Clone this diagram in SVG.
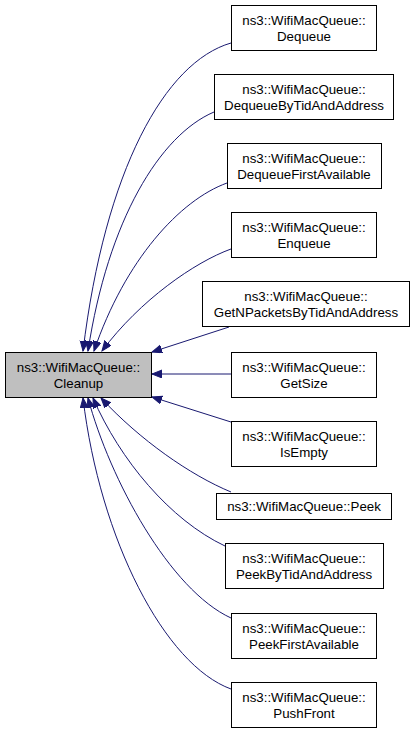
<svg xmlns="http://www.w3.org/2000/svg" width="413" height="733" viewBox="0 0 413 733">
<style>
.n rect{fill:#ffffff;stroke:#000000;stroke-width:1}
.n text{font-family:"Liberation Sans",Arial,sans-serif;font-size:13.3px;text-anchor:middle;fill:#000000}
#cleanup rect{fill:#bfbfbf}
#edges path{fill:none;stroke:#191970;stroke-width:1;marker-end:url(#ah)}
</style>
<defs>
<marker id="ah" markerUnits="userSpaceOnUse" markerWidth="12" markerHeight="10" refX="10" refY="4" orient="auto">
<polygon points="0,0 10,4 0,8" fill="#191970" stroke="#191970"/>
</marker>
</defs>
<rect width="413" height="733" fill="#ffffff"/>
<g id="edges">
<path d="M231,43 C165,62 105,170 83,351"/>
<path d="M214,112 C160,135 108,220 88,351"/>
<path d="M227,183 C180,200 125,260 94,351"/>
<path d="M231,249 C195,262 140,300 102,351"/>
<path d="M229,327 L152,352"/>
<path d="M231,374 L152,374"/>
<path d="M231,422 L152,397"/>
<path d="M231,492 C190,475 140,440 101,398"/>
<path d="M225,546 C170,520 120,460 93,398"/>
<path d="M231,618 C170,590 110,480 88,398"/>
<path d="M231,689 C165,665 100,540 83,398"/>
</g>
<g id="cleanup" class="n"><rect x="5.5" y="352.5" width="146" height="45"/><text x="78.5" y="372">ns3::WifiMacQueue::</text><text x="78.5" y="388">Cleanup</text></g>
<g id="dequeue" class="n"><rect x="231.5" y="5.5" width="145" height="45"/><text x="304" y="25">ns3::WifiMacQueue::</text><text x="304" y="41">Dequeue</text></g>
<g id="dequeuebytid" class="n"><rect x="214.5" y="74.5" width="179" height="45"/><text x="304" y="94">ns3::WifiMacQueue::</text><text x="304" y="110">DequeueByTidAndAddress</text></g>
<g id="dequeuefirst" class="n"><rect x="227.5" y="143.5" width="154" height="45"/><text x="304" y="163">ns3::WifiMacQueue::</text><text x="304" y="179">DequeueFirstAvailable</text></g>
<g id="enqueue" class="n"><rect x="231.5" y="212.5" width="145" height="45"/><text x="304" y="232">ns3::WifiMacQueue::</text><text x="304" y="248">Enqueue</text></g>
<g id="getnpackets" class="n"><rect x="202.5" y="281.5" width="207" height="45"/><text x="306" y="301">ns3::WifiMacQueue::</text><text x="306" y="317">GetNPacketsByTidAndAddress</text></g>
<g id="getsize" class="n"><rect x="231.5" y="352.5" width="145" height="45"/><text x="304" y="372">ns3::WifiMacQueue::</text><text x="304" y="388">GetSize</text></g>
<g id="isempty" class="n"><rect x="231.5" y="421.5" width="145" height="45"/><text x="304" y="441">ns3::WifiMacQueue::</text><text x="304" y="457">IsEmpty</text></g>
<g id="peek" class="n"><rect x="216.5" y="493.5" width="175" height="26"/><text x="304" y="511">ns3::WifiMacQueue::Peek</text></g>
<g id="peekbytid" class="n"><rect x="225.5" y="543.5" width="158" height="45"/><text x="304" y="563">ns3::WifiMacQueue::</text><text x="304" y="579">PeekByTidAndAddress</text></g>
<g id="peekfirst" class="n"><rect x="231.5" y="613.5" width="145" height="45"/><text x="304" y="633">ns3::WifiMacQueue::</text><text x="304" y="649">PeekFirstAvailable</text></g>
<g id="pushfront" class="n"><rect x="231.5" y="682.5" width="145" height="45"/><text x="304" y="702">ns3::WifiMacQueue::</text><text x="304" y="718">PushFront</text></g>
</svg>
